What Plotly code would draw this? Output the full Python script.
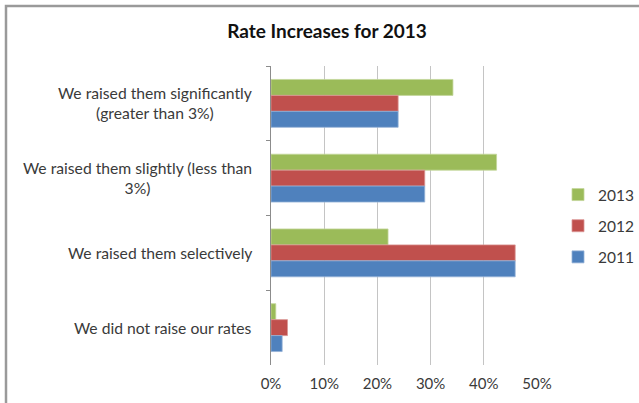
import plotly.graph_objects as go

# Survey answers, listed top to bottom as they appear on the chart
categories = [
    "We raised them significantly<br>(greater than 3%)",
    "We raised them slightly (less than<br>3%)",
    "We raised them selectively",
    "We did not raise our rates",
]

# Share of respondents (%) per year
years = ["2013", "2012", "2011"]
values_2013 = [34.2, 42.4, 22.0, 0.9]
values_2012 = [23.9, 28.9, 45.9, 3.1]
values_2011 = [23.9, 28.9, 45.9, 2.1]

x_ticks = [0, 10, 20, 30, 40, 50]
x_tick_labels = ["0%", "10%", "20%", "30%", "40%", "50%"]

colors = {"2013": "#9BBB59", "2012": "#C0504D", "2011": "#4F81BD"}
edges = {"2013": "#c3d69b", "2012": "#d99694", "2011": "#95b3d7"}
series = {"2013": values_2013, "2012": values_2012, "2011": values_2011}

W, H = 639, 403
L, R, T, B = 271, 102, 66, 38
plot_w = W - L - R
plot_h = H - T - B

fig = go.Figure()
for yr in years:
    fig.add_trace(go.Bar(
        y=categories,
        x=series[yr],
        name=yr,
        orientation="h",
        legendgroup=yr,
        marker=dict(color=colors[yr], line=dict(color=edges[yr], width=0.8)),
    ))

font_family = "Lato, Carlito, 'Liberation Sans', sans-serif"

# Category labels: right edge near the axis, lines centred within each label
annotations = []
for cat in categories:
    annotations.append(dict(
        x=(254 - L) / plot_w, xref="paper",
        y=cat, yref="y",
        text=cat, showarrow=False,
        xanchor="right", yanchor="middle", align="center",
        font=dict(family=font_family, size=15.7, color="#3a3a3a"),
    ))

# Outer chart frame (left and top edges visible)
frame = dict(
    type="rect", xref="paper", yref="paper",
    x0=(6 - L) / plot_w, x1=(W + 20 - L) / plot_w,
    y0=(B - H - 20) / plot_h, y1=(H - 6 - B) / plot_h,
    line=dict(color="#9a9a9a", width=2.5), fillcolor="rgba(0,0,0,0)", layer="below",
)

fig.update_layout(
    width=W, height=H,
    margin=dict(l=L, r=R, t=T, b=B, autoexpand=False),
    paper_bgcolor="white", plot_bgcolor="white",
    barmode="group", bargap=0.36, bargroupgap=0,
    title=dict(
        text="Rate Increases for 2013",
        x=327 / W, xanchor="center", xref="container",
        y=1 - 31 / H, yanchor="middle", yref="container",
        font=dict(family=font_family, size=19, color="#111111", weight="bold"),
    ),
    font=dict(family=font_family, size=14, color="#3a3a3a"),
    legend=dict(
        x=(558 - L) / plot_w, xanchor="left",
        y=(H - 178 - B) / plot_h, yanchor="top",
        traceorder="grouped", tracegroupgap=8,
        itemwidth=30,
        font=dict(family=font_family, size=15.5, color="#3a3a3a"),
        bgcolor="rgba(0,0,0,0)",
    ),
    xaxis=dict(
        range=[0, 50], tickmode="array", tickvals=x_ticks, ticktext=x_tick_labels,
        showgrid=True, gridcolor="#c4c4c4", gridwidth=1,
        zeroline=False, showline=False, ticks="",
        ticklabelstandoff=8,
        tickfont=dict(family=font_family, size=15, color="#3a3a3a"),
    ),
    yaxis=dict(
        type="category", categoryorder="array", categoryarray=categories,
        autorange="reversed", showticklabels=False,
        showline=True, linecolor="#8c8c8c", linewidth=1,
        ticks="outside", tickson="boundaries", ticklen=4, tickcolor="#8c8c8c",
        showgrid=False,
    ),
    annotations=annotations,
    shapes=[frame],
)

fig.write_html("out.html")
